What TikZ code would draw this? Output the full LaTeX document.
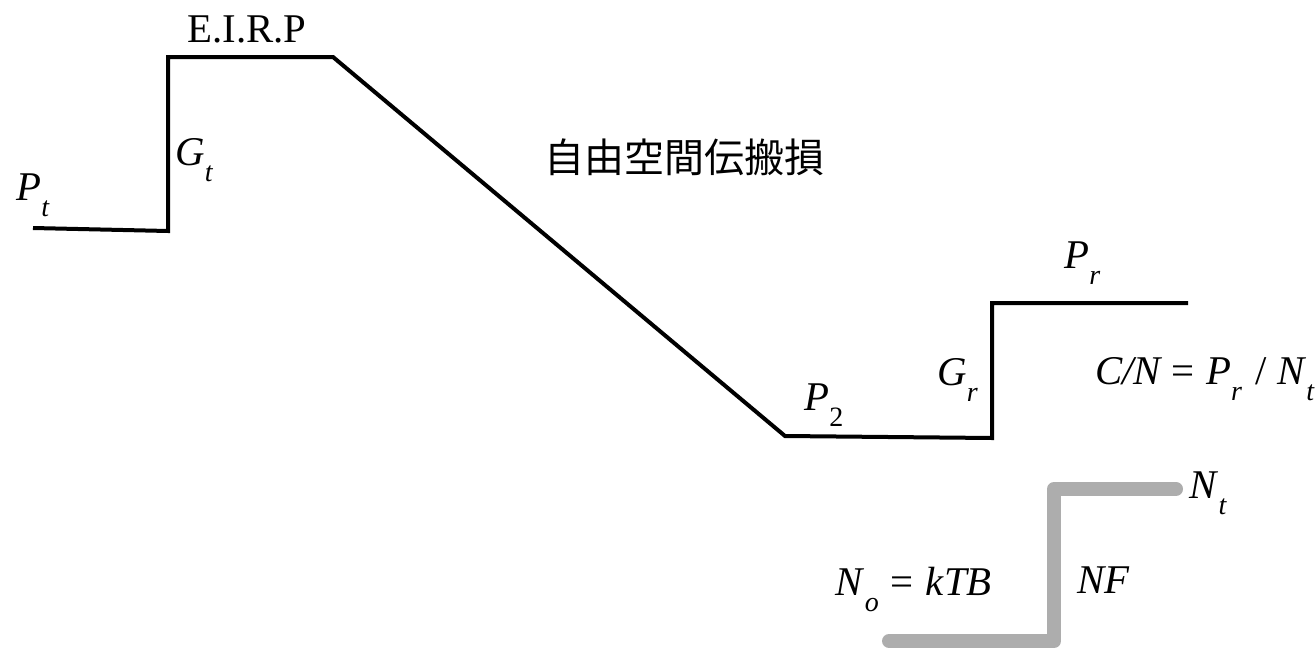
\documentclass[tikz,border=0pt]{standalone}
\usepackage{fontspec}
\setmainfont{Liberation Serif}
\newfontfamily\jpfont{Noto Sans CJK JP}
\usetikzlibrary{positioning}
% symbol with a lowered subscript
\newcommand{\lsub}[2]{#1\raisebox{-8pt}{\fontsize{14}{14}\selectfont #2}}

\begin{document}
\begin{tikzpicture}[
    x=0.5pt, y=-0.5pt,
    sig/.style={line width=2pt, line join=miter},
    noise/.style={line width=7pt, black!32, line cap=round, line join=round},
    lbl/.style={font=\fontsize{20.4}{24}\selectfont, inner sep=0pt},
    jlbl/.style={font=\jpfont\fontsize{20}{24}\selectfont, inner sep=0pt},
]
  \useasboundingbox (0,0) rectangle (1316,648);

  % Level points of the signal
  \coordinate (pt)   at (33,228);
  \coordinate (ant)  at (168,231);
  \coordinate (eirp) at (168,57);
  \coordinate (out)  at (333,57);
  \coordinate (p2)   at (785,436);
  \coordinate (rant) at (992,438);
  \coordinate (pr)   at (992,303);
  \coordinate (pend) at (1188,303);

  % Level points of the noise
  \coordinate (no)   at (889,641);
  \coordinate (nf)   at (1054,641);
  \coordinate (nt)   at (1054,489);
  \coordinate (nend) at (1176,489);

  % Signal level
  \draw[sig] (pt) -- (ant) -- (eirp) -- (out) -- (p2) -- (rant) -- (pr) -- (pend);

  % Noise level
  \draw[noise] (no) -- (nf) -- (nt) -- (nend);

  % Labels
  \node[lbl, anchor=base west] (lPt) at (16,200) {\lsub{\textit{P}}{\textit{t}}};
  \node[lbl, anchor=base west] (lGt) at (175,165) {\lsub{\textit{G}}{\textit{t}}};
  \node[lbl, anchor=base west] (lEIRP) at (187,42) {E.I.R.P};
  \node[jlbl] (lloss) at (684,157) {自由空間伝搬損};
  \node[lbl, anchor=base west] (lP2) at (804,410) {\lsub{\textit{P}}{2}};
  \node[lbl, anchor=base west] (lGr) at (937,385) {\lsub{\textit{G}}{\textit{r}}};
  \node[lbl, anchor=base west] (lPr) at (1064,268) {\lsub{\textit{P}}{\textit{r}}};
  \node[lbl, anchor=base west] (lCN) at (1095,384)
    {\textit{C/N}\hspace{4pt}=\hspace{6pt}\lsub{\textit{P}}{\textit{r}}\hspace{7pt}/\hspace{5pt}\lsub{\textit{N}}{\textit{t}}};
  \node[lbl, anchor=base west] (lNt) at (1189,498) {\lsub{\textit{N}}{\textit{t}}};
  \node[lbl, anchor=base east] (lNo) at (992,595)
    {\lsub{\textit{N}}{\textit{o}}\hspace{6pt}=\hspace{6pt}\textit{kTB}};
  \node[lbl, anchor=base west] (lNF) at (1077,593) {\textit{NF}};
\end{tikzpicture}
\end{document}
